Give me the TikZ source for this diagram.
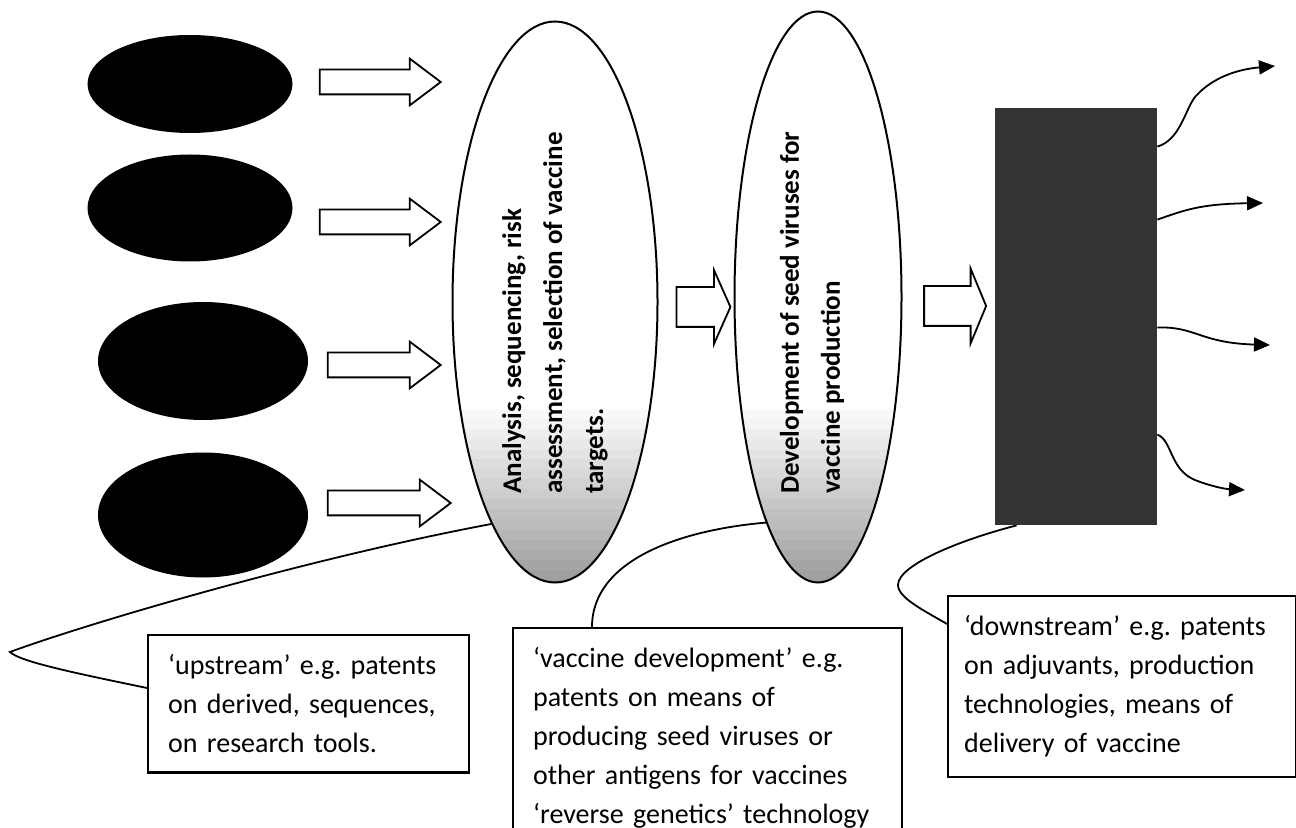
\documentclass[tikz,border=0pt]{standalone}
\usepackage{fontspec}
\setmainfont{Carlito}
\usetikzlibrary{shapes.geometric,shapes.arrows,arrows.meta,calc}

\tikzset{
  source/.style={ellipse, fill=black, inner sep=0pt, minimum width=102.5pt},
  blockarrow/.style={single arrow, draw, fill=white, line width=0.9pt, inner xsep=0pt, inner ysep=5.75pt,
    single arrow head extend=5.5pt, single arrow tip angle=74, minimum height=60.5pt},
  bigarrow/.style={single arrow, draw, fill=white, line width=0.9pt, inner xsep=0pt, inner ysep=9.5pt,
    single arrow head extend=8.5pt, single arrow tip angle=132},
  stage/.style={ellipse, draw, line width=1pt, inner sep=0pt,
    path picture={\foreach \k [evaluate=\k as \g using 2.2*\k] in {0,...,18}
      \fill[black!\g] ($(path picture bounding box.south west)+(0,-183+10*\k)$)
        rectangle ($(path picture bounding box.south east)+(0,-172+10*\k)$);}},
  stagetext/.style={rotate=90, anchor=west, align=left, inner sep=0pt,
    font=\fontsize{13.5}{20.5}\selectfont\bfseries},
  note/.style={draw, line width=1.1pt, anchor=north west, align=left, inner xsep=10pt, inner ysep=9.75pt,
    font=\fontsize{14}{19.5}\selectfont\frenchspacing},
  callout/.style={line width=0.9pt},
  outflow/.style={line width=0.9pt, -{Triangle[length=8pt,width=7pt]}}
}

\begin{document}
\begin{tikzpicture}[x=0.5pt, y=-0.5pt]
\path[use as bounding box, clip] (0,0) rectangle (1296,828);

% sources on the left
\node[source, minimum height=49pt] (srcA) at (190,84) {};
\node[source, minimum height=53.5pt] (srcB) at (190,208) {};
\node[source, minimum width=105pt, minimum height=59pt] (srcC) at (203,361) {};
\node[source, minimum width=105pt, minimum height=62.5pt] (srcD) at (203,515) {};

\node[blockarrow] (inA) at (372,82) {};
\node[blockarrow] (inB) at (372,222) {};
\node[blockarrow, minimum height=56.5pt] (inC) at (376,365) {};
\node[blockarrow, minimum height=61.5pt] (inD) at (381,503) {};

% the two stages
\node[stage, minimum width=102.5pt, minimum height=280.5pt] (ell1) at (555,302) {};
\node[stage, minimum width=83.5pt, minimum height=285.5pt] (ell2) at (818,297) {};
\node[stagetext] (ell1txt) at (555,494) {Analysis, sequencing, risk\\assessment, selection of vaccine\\targets.};
\node[stagetext] (ell2txt) at (812,494) {Development of seed viruses for\\vaccine production};

\node[bigarrow, minimum height=27pt] (midA) at (699,307) {};
\node[bigarrow, minimum height=31pt, single arrow head extend=8.75pt, single arrow tip angle=135] (midB) at (951,306) {};

% production block
\node[fill=black!80, inner sep=0pt, minimum width=81pt, minimum height=208.5pt] (prod) at (1076,316.5) {};

\coordinate (outA) at (1275,66);
\coordinate (outB) at (1263,203);
\coordinate (outC) at (1270,345);
\coordinate (outD) at (1245,490);

\draw[outflow] ($(prod.north east)+(0,39)$) .. controls (1180,140) and (1185,110) .. (1195,97)
  .. controls (1208,82) and (1230,70) .. (outA);
\draw[outflow] ($(prod.north east)+(0,112)$) .. controls (1185,210) and (1200,204) .. (outB);
\draw[outflow] ($(prod.north east)+(0,220)$) .. controls (1195,326) and (1200,343) .. (outC);
\draw[outflow] ($(prod.north east)+(0,327)$) .. controls (1172,440) and (1170,470) .. (1195,480)
  .. controls (1210,486) and (1225,489) .. (outD);

% patent boxes
\node[note, text width=140.5pt] (upbox) at (147,634)
  {‘upstream’ e.g. patents\\on derived, sequences,\\on research tools.};
\node[note, text width=174.5pt] (vacbox) at (512,627)
  {‘vaccine development’ e.g.\\patents on means of\\producing seed viruses or\\other antigens for vaccines\\‘reverse genetics’ technology};
\node[note, text width=158pt, inner xsep=8pt] (dnbox) at (947,595)
  {‘downstream’ e.g. patents\\on adjuvants, production\\technologies, means of\\delivery of vaccine};

% callouts
\draw[callout] ([yshift=-27pt]upbox.north west) .. controls (80,674) and (20,662) .. (10,652)
  .. controls (80,626) and (300,560) .. (ell1.254);
\draw[callout] ([xshift=40pt]vacbox.north west) .. controls (592,560) and (680,530) .. (ell2.257);
\draw[callout] ([yshift=-14.5pt]dnbox.north west) .. controls (925,611) and (898,598) .. (898,585)
  .. controls (898,565) and (960,540) .. ([xshift=11pt]prod.south west);

\end{tikzpicture}
\end{document}
